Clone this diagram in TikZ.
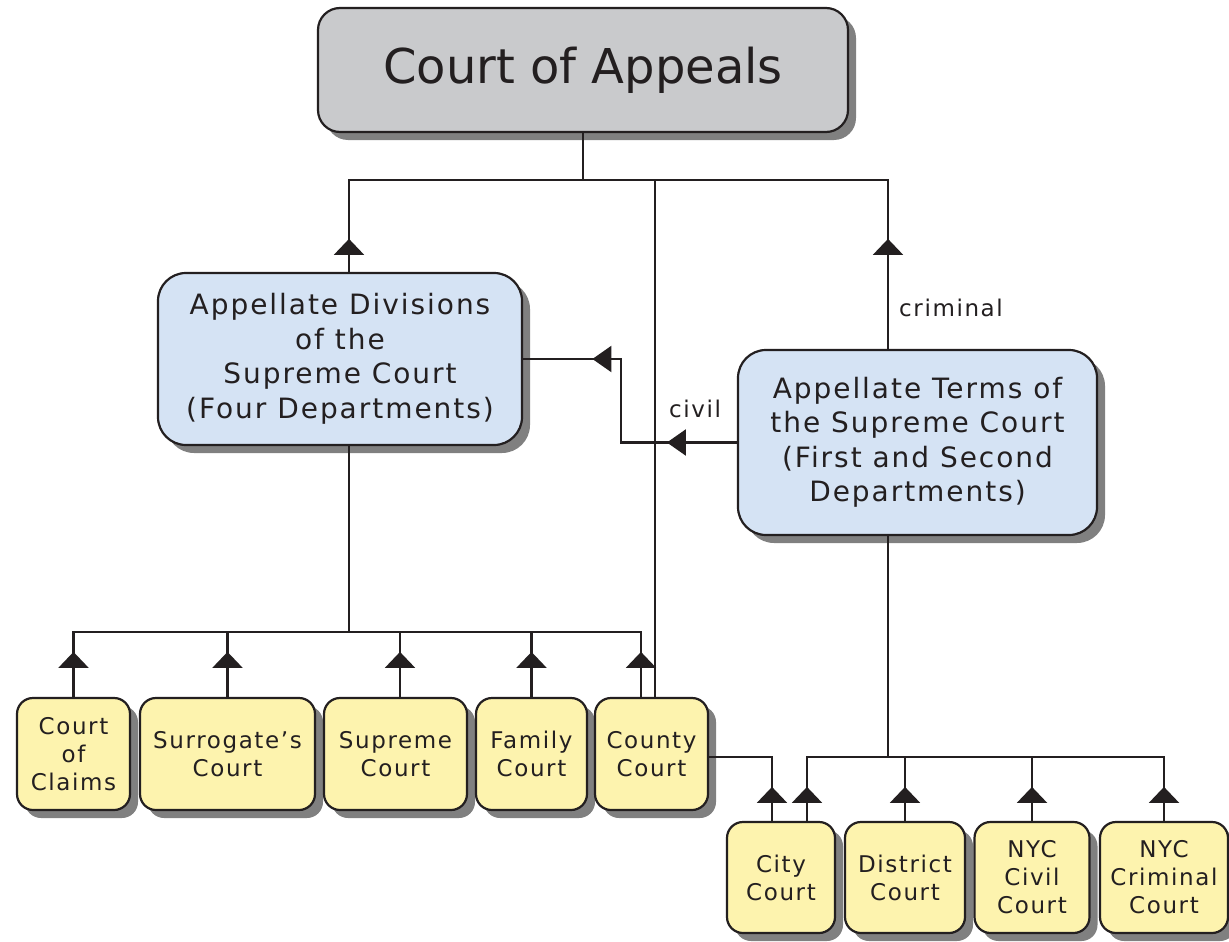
\documentclass[tikz,border=0pt]{standalone}
\usepackage{fontspec}
\setmainfont{DejaVu Sans}[LetterSpace=7]
\newfontfamily\coafont{DejaVu Sans}
\usetikzlibrary{shadows,arrows.meta,decorations.markings}
\definecolor{txt}{HTML}{231F20}
\definecolor{coagray}{HTML}{C9CACC}
\definecolor{adblue}{HTML}{D5E3F4}
\definecolor{ctyellow}{HTML}{FDF3AE}
\definecolor{shadowgray}{HTML}{808080}
\tikzset{
  box/.style={draw=txt, line width=2.2pt, align=center, text=txt, inner sep=0pt,
    drop shadow={shadow xshift=8pt, shadow yshift=-8pt, fill=shadowgray, opacity=1}},
  topbox/.style={box, fill=coagray, rounded corners=22pt, minimum width=530pt, minimum height=124pt,
    font=\coafont\fontsize{48}{56}\selectfont},
  midbox/.style={box, fill=adblue, rounded corners=28pt, font=\fontsize{28}{34.5}\selectfont},
  lowbox/.style={box, fill=ctyellow, rounded corners=16pt, font=\fontsize{23}{28}\selectfont},
  conn/.style={draw=txt, line width=2.2pt},
  uparr/.style={conn, postaction={decorate, decoration={markings,
    mark=at position #1 with {\arrow{Triangle[width=30pt,length=16pt]}}}}},
  lbl/.style={text=txt, font=\fontsize{23}{27}\selectfont, inner sep=0pt}
}
\begin{document}
\begin{tikzpicture}[x=1pt,y=-1pt]
\useasboundingbox[fill=white] (0,0) rectangle (1229,942);
% nodes
\node[topbox] (coa) at (583,70) {Court of Appeals};
\node[midbox, minimum width=364pt, minimum height=172pt] (ad) at (340,359)
  {Appellate Divisions\\of the\\Supreme Court\\(Four Departments)};
\node[midbox, minimum width=359pt, minimum height=185pt] (at) at (917.5,442.5)
  {Appellate Terms of\\the Supreme Court\\(First and Second\\Departments)};
\node[lowbox, minimum width=113pt, minimum height=112pt] (claims) at (73.5,754) {Court\\of\\Claims};
\node[lowbox, minimum width=175pt, minimum height=112pt] (surr) at (227.5,754) {Surrogate’s\\Court};
\node[lowbox, minimum width=143pt, minimum height=112pt] (supreme) at (395.5,754) {Supreme\\Court};
\node[lowbox, minimum width=111pt, minimum height=112pt] (family) at (531.5,754) {Family\\Court};
\node[lowbox, minimum width=113pt, minimum height=112pt] (county) at (651.5,754) {County\\Court};
\node[lowbox, minimum width=108pt, minimum height=111pt] (city) at (781,877.5) {City\\Court};
\node[lowbox, minimum width=120pt, minimum height=111pt] (district) at (905,877.5) {District\\Court};
\node[lowbox, minimum width=115pt, minimum height=111pt] (nyccivil) at (1032,877.5) {NYC\\Civil\\Court};
\node[lowbox, minimum width=128pt, minimum height=111pt] (nyccrim) at (1164,877.5) {NYC\\Criminal\\Court};
% bus coordinates
\coordinate (busA) at (583,180);
\coordinate (busB) at (349,632);
\coordinate (busC) at (888,757);
\coordinate (civbend) at (621,359);
% top level
\path[conn] (coa.south) -- (busA);
\path[uparr=33pt] ([xshift=9pt]ad.north) |- (busA);
\path[uparr=110pt] ([xshift=-29.5pt]at.north) |- (busA);
\path[conn] ([xshift=3.5pt]county.north) |- (busA);
\node[lbl, anchor=west] (crim) at (899,308) {criminal};
% civil
\path[conn, postaction={decorate, decoration={markings,
    mark=at position 70pt with {\arrow{Triangle[width=26pt,length=19pt]}},
    mark=at position 228pt with {\arrow{Triangle[width=26pt,length=19pt]}}}}]
  (at.west) -| (civbend) -- (ad.east);
\node[lbl, anchor=west] (civ) at (669,409) {civil};
% appellate divisions children
\path[conn] ([xshift=9pt]ad.south) -- (busB);
\path[uparr=45pt] (claims.north) |- (busB);
\path[uparr=45pt] (surr.north) |- (busB);
\path[uparr=45pt] ([xshift=4.5pt]supreme.north) |- (busB);
\path[uparr=45pt] (family.north) |- (busB);
\path[uparr=45pt] ([xshift=-10.5pt]county.north) |- (busB);
% appellate terms children
\path[conn] ([xshift=-29.5pt]at.south) -- (busC);
\path[uparr=34pt] ([xshift=26pt]city.north) |- (busC);
\path[uparr=34pt] (district.north) |- (busC);
\path[uparr=34pt] (nyccivil.north) |- (busC);
\path[uparr=34pt] (nyccrim.north) |- (busC);
\path[uparr=34pt] ([xshift=-9pt]city.north) |- (county.east |- busC);
\end{tikzpicture}
\end{document}
